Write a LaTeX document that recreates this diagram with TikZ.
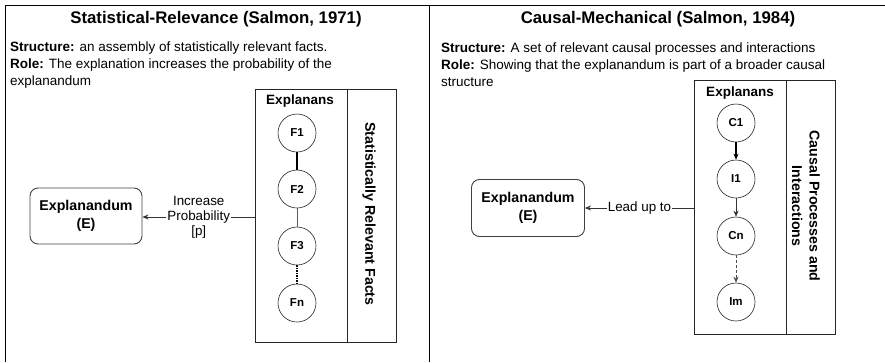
\documentclass[tikz,border=0pt]{standalone}
\usepackage{fontspec}
\setmainfont{Liberation Sans}
\usetikzlibrary{arrows.meta}
\begin{document}
\begin{tikzpicture}[x=1pt,y=-1pt,
  frame/.style={line width=0.9pt, draw=black},
  headline/.style={font=\bfseries\fontsize{16.8}{19}\selectfont, anchor=center},
  desc/.style={font=\fontsize{13.5}{16.6}\selectfont, anchor=north west, align=left, inner sep=0pt},
  factnode/.style={circle, draw=black!85, line width=0.6pt, minimum size=38pt, inner sep=0pt, font=\bfseries\fontsize{11.5}{13}\selectfont},
  exbox/.style={draw=black!75, line width=0.9pt, rounded corners=8pt, align=center, font=\bfseries\fontsize{14.2}{17.5}\selectfont},
  panelbox/.style={draw=black!85, line width=0.7pt},
  sidetext/.style={font=\bfseries\fontsize{14.2}{17.5}\selectfont, rotate=-90, align=center},
  boxhead/.style={font=\bfseries\fontsize{13.5}{15}\selectfont},
  tag/.style={fill=white, inner sep=1pt, align=center, font=\fontsize{13.4}{15}\selectfont},
  link/.style={line width=0.7pt, draw=black!80},
  tip/.style={-{Stealth[length=6pt,width=5pt]}}
]
\useasboundingbox (0,0) rectangle (885,362);

% outer frame of the two panels
\draw[frame] (5,362) -- (5,5) -- (885,5);
\draw[frame] (429,5) -- (429,362);

% ---------- left panel ----------
\node[headline] (tl) at (216,19) {Statistical-Relevance (Salmon, 1971)};
\node[desc] (dl) at (10,42) {\textbf{Structure:} an assembly of statistically relevant facts.\\
\textbf{Role:} The explanation increases the probability of the\\explanandum};

\draw[panelbox] (255,89) rectangle (396,342);
\draw[panelbox] (347,89) -- (347,342);
\coordinate (ebl) at (255,217);
\node[boxhead] (xl) at (300,101) {Explanans};
\node[sidetext] (sl) at (369,214) {Statistically Relevant Facts};

\node[factnode] (f1) at (297,133) {F1};
\node[factnode] (f2) at (297,189) {F2};
\node[factnode] (f3) at (297,246) {F3};
\node[factnode] (fn) at (297,303) {Fn};
\draw[line width=1.3pt] (f1) -- (f2);
\draw[line width=0.7pt, draw=black!65] (f2) -- (f3);
\draw[line width=1.3pt, dash pattern=on 1.5pt off 1pt] (f3) -- (fn);

\node[exbox, minimum width=112pt, minimum height=56pt] (el) at (86,216) {Explanandum\\(E)};
\draw[link, tip] (ebl) -- node[tag] (pl) {Increase\\Probability\\{[p]}} (el.east |- ebl);

% ---------- right panel ----------
\node[headline] (tr) at (658,19) {Causal-Mechanical (Salmon, 1984)};
\node[desc] (dr) at (441,43) {\textbf{Structure:} A set of relevant causal processes and interactions\\
\textbf{Role:} Showing that the explanandum is part of a broader causal\\structure};

\draw[panelbox] (694,80) rectangle (835,334);
\draw[panelbox] (786,80) -- (786,334);
\coordinate (ebr) at (694,208);
\node[boxhead] (xr) at (740,93) {Explanans};
\node[sidetext] (sr) at (806,206) {Causal Processes and\\Interactions};

\node[factnode] (c1) at (736,123) {C1};
\node[factnode] (i1) at (736,179) {I1};
\node[factnode] (cn) at (736,236) {Cn};
\node[factnode] (im) at (736,302) {Im};
\draw[line width=1.3pt, -{Stealth[length=6pt,width=5pt]}] (c1) -- (i1);
\draw[line width=0.7pt, draw=black!80, tip] (i1) -- (cn);
\draw[line width=0.7pt, draw=black!70, dash pattern=on 3pt off 2pt, tip] (cn) -- (im);

\node[exbox, minimum width=113pt, minimum height=57pt] (er) at (528,208) {Explanandum\\(E)};
\draw[link, tip] (ebr) -- node[tag] (lu) {Lead up to} (er.east |- ebr);
\end{tikzpicture}
\end{document}
